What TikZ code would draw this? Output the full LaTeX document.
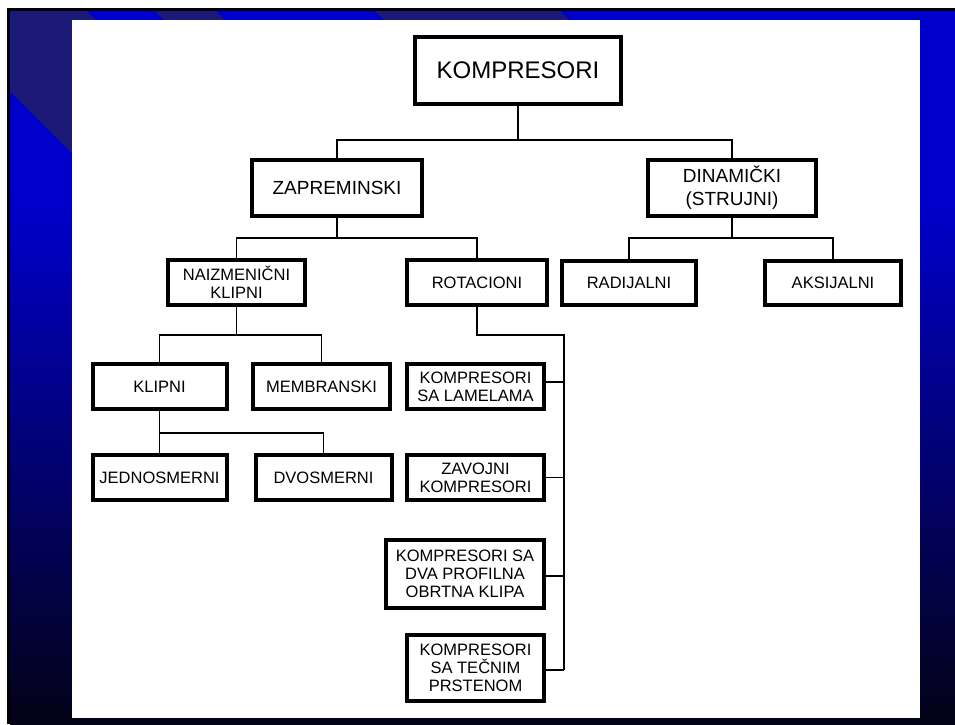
\documentclass[tikz,border=0pt]{standalone}
\usepackage{fontspec}
\setmainfont{Liberation Sans}
\usetikzlibrary{calc}
\definecolor{bgblue}{RGB}{0,0,204}
\definecolor{bgnavy}{RGB}{28,26,120}
\definecolor{bgdark}{RGB}{3,2,22}
\tikzset{
  box/.style={draw=black, line width=4pt, fill=white, align=center, inner sep=0pt,
    text=black, font=\fontsize{16.5}{18}\selectfont},
  bigbox/.style={box, font=\fontsize{19}{23}\selectfont},
  conn/.style={draw=black, line width=1.8pt}
}
\begin{document}
\begin{tikzpicture}[x=1pt,y=-1pt]
\useasboundingbox (0,0) rectangle (955,724);
% background
\fill[white] (0,0) rectangle (955,724);
\fill[black] (7,8) rectangle (955,724);
\fill[bgblue] (10,11) rectangle (955,201);
\shade[top color=bgblue, bottom color=bgdark] (10,200) rectangle (955,724);
\begin{scope}
  \clip (10,11) rectangle (955,724);
  \fill[bgnavy] (-81,0) -- (76,0) -- (276,200) -- (119,200) -- cycle;
  \fill[bgnavy] (144,0) -- (205,0) -- (405,200) -- (344,200) -- cycle;
  \fill[bgnavy] (364,0) -- (549,0) -- (749,200) -- (564,200) -- cycle;
\end{scope}
\fill[white] (72,20) rectangle (920,718);

% nodes
\node[box, font=\fontsize{24}{28}\selectfont, minimum width=206pt, minimum height=67pt] (K) at (518,70.5) {KOMPRESORI};
\node[bigbox, minimum width=170pt, minimum height=56pt] (Z) at (337,188) {ZAPREMINSKI};
\node[bigbox, minimum width=168pt, minimum height=56pt] (D) at (732,188) {DINAMIČKI\\(STRUJNI)};
\node[box, minimum width=137pt, minimum height=45pt] (N) at (236.5,282.5) {NAIZMENIČNI\\KLIPNI};
\node[box, minimum width=140pt, minimum height=45pt] (R) at (477,282.5) {ROTACIONI};
\node[box, minimum width=134pt, minimum height=44pt] (RAD) at (629,283) {RADIJALNI};
\node[box, minimum width=136pt, minimum height=44pt] (AKS) at (833,283) {AKSIJALNI};
\node[box, minimum width=134pt, minimum height=45pt] (KL) at (159.5,386.5) {KLIPNI};
\node[box, minimum width=137pt, minimum height=45pt] (MEM) at (321.5,386.5) {MEMBRANSKI};
\node[box, minimum width=134pt, minimum height=45pt] (JED) at (159.5,477.5) {JEDNOSMERNI};
\node[box, minimum width=136pt, minimum height=45pt] (DVO) at (323.5,477.5) {DVOSMERNI};
\node[box, minimum width=137pt, minimum height=45pt] (LAM) at (475.5,386.5) {KOMPRESORI\\SA LAMELAMA};
\node[box, minimum width=137pt, minimum height=45pt] (ZAV) at (475.5,477.5) {ZAVOJNI\\KOMPRESORI};
\node[box, minimum width=158pt, minimum height=68pt] (DVA) at (465,574) {KOMPRESORI SA\\DVA PROFILNA\\OBRTNA KLIPA};
\node[box, minimum width=137pt, minimum height=66pt] (TEC) at (475.5,668) {KOMPRESORI\\SA TEČNIM\\PRSTENOM};

% junctions
\coordinate (j1) at (518,140);
\coordinate (j2) at (337,238);
\coordinate (j3) at (732,238);
\coordinate (j4) at (236.5,335);
\coordinate (j5) at (159.5,433);
\coordinate (j6) at (477,335);
\coordinate (j7) at (564,335);
\coordinate (j8) at (564,670);

% connectors
\draw[conn] (K.south) -- (j1);
\draw[conn] (j1) -| (Z.north);
\draw[conn] (j1) -| (D.north);
\draw[conn] (Z.south) -- (j2);
\draw[conn] (j2) -| (N.north);
\draw[conn] (j2) -| (R.north);
\draw[conn] (D.south) -- (j3);
\draw[conn] (j3) -| (RAD.north);
\draw[conn] (j3) -| (AKS.north);
\draw[conn] (N.south) -- (j4);
\draw[conn] (j4) -| (KL.north);
\draw[conn] (j4) -| (MEM.north);
\draw[conn] (KL.south) -- (j5);
\draw[conn] (j5) -| (JED.north);
\draw[conn] (j5) -| (DVO.north);
\draw[conn] (R.south) -- (j6) -- (j7) -- (j8);
\draw[conn] ([yshift=4.5pt]LAM.east) -- ([yshift=4.5pt]LAM.east -| j7);
\draw[conn] (ZAV.east) -- (ZAV.east -| j7);
\draw[conn] ([yshift=-2pt]DVA.east) -- ([yshift=-2pt]DVA.east -| j7);
\draw[conn] ([yshift=-2pt]TEC.east) -- ([yshift=-2pt]TEC.east -| j7);
\end{tikzpicture}
\end{document}
